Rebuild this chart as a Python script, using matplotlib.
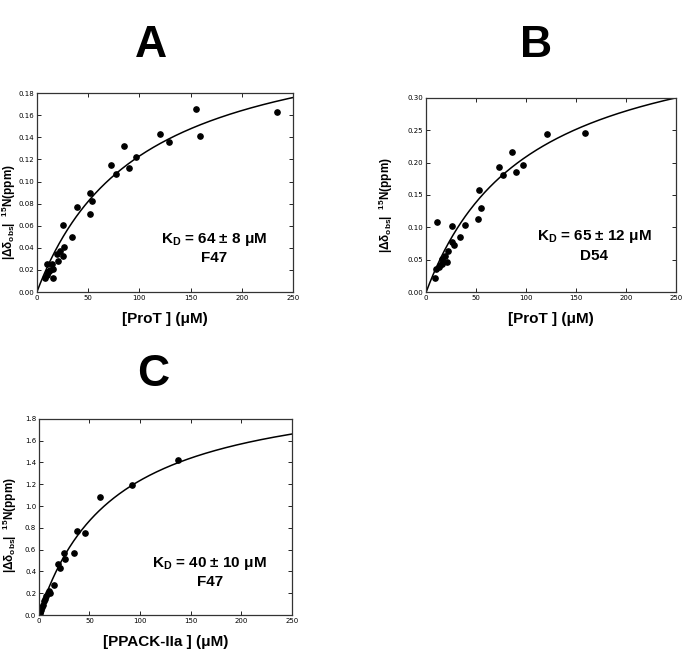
import numpy as np
import matplotlib
matplotlib.use("Agg")
import matplotlib.pyplot as plt

# panel A: ProT titration, F47
a_conc = [234.4, 155.3, 158.9, 120.1, 128.9, 84.6, 96.4, 89.8, 71.9, 77.5,
          51.4, 54.0, 51.4, 38.7, 25.4, 33.9, 26.7, 25.7, 22.1, 19.2,
          20.5, 10.1, 14.6, 15.6, 12.4, 10.7, 9.4, 7.8, 15.3, 12.0]
a_shift = [0.163, 0.166, 0.141, 0.143, 0.136, 0.132, 0.122, 0.112, 0.115, 0.107,
           0.090, 0.082, 0.071, 0.077, 0.061, 0.050, 0.041, 0.033, 0.037, 0.034,
           0.028, 0.025, 0.025, 0.021, 0.020, 0.018, 0.015, 0.013, 0.013, 0.019]

# panel B: ProT titration, D54
b_conc = [159.3, 120.7, 85.7, 72.7, 77.3, 90.3, 97.3, 53.0, 54.7, 52.3,
          11.3, 26.3, 39.3, 34.3, 26.3, 27.7, 22.3, 21.3, 19.0, 16.0,
          14.3, 12.7, 10.3, 9.3, 16.3]
b_shift = [0.245, 0.244, 0.216, 0.193, 0.181, 0.186, 0.196, 0.158, 0.129, 0.113,
           0.108, 0.102, 0.103, 0.085, 0.078, 0.072, 0.064, 0.046, 0.056, 0.051,
           0.041, 0.038, 0.036, 0.021, 0.043]

# panel C: PPACK-IIa titration, F47
c_conc = [137.9, 91.7, 60.7, 37.6, 45.8, 34.3, 24.7, 25.7, 19.1, 20.8,
          14.8, 10.9, 9.9, 8.6, 7.3, 6.3, 5.3, 4.3, 3.0, 2.3, 1.3, 0.7]
c_shift = [1.42, 1.193, 1.082, 0.770, 0.757, 0.573, 0.573, 0.515, 0.466, 0.432,
           0.276, 0.199, 0.218, 0.199, 0.175, 0.147, 0.126, 0.092, 0.071, 0.046,
           0.031, 0.015]

# fitted curve parameters (max shift, apparent K)
a_fit = (0.247, 100.7)
b_fit = (0.4226, 102.2)
c_fit = (2.156, 74.7)

a_ticks = [0.00, 0.02, 0.04, 0.06, 0.08, 0.10, 0.12, 0.14, 0.16, 0.18]
b_ticks = [0.00, 0.05, 0.10, 0.15, 0.20, 0.25, 0.30]
c_ticks = [0.0, 0.2, 0.4, 0.6, 0.8, 1.0, 1.2, 1.4, 1.6, 1.8]
x_ticks = [0, 50, 100, 150, 200, 250]

ylabel = "|Δδ$_{\\mathregular{obs}}$|  $^{\\mathregular{15}}$N(ppm)"
bold = dict(family="Liberation Sans", fontweight="bold")


def panel(ax, conc, shift, fit, yticks, fmt, xlabel, note, note_pos, ylab_pos):
    xs = np.linspace(0, 250, 300)
    bmax, k = fit
    ax.plot(xs, bmax * xs / (k + xs), color="black", lw=1.1)
    ax.plot(conc, shift, "o", color="black", ms=3.8)
    ax.set_xlim(0, 250)
    ax.set_ylim(yticks[0], yticks[-1])
    ax.set_xticks(x_ticks)
    ax.set_yticks(yticks)
    ax.set_yticklabels([fmt % t for t in yticks])
    ax.tick_params(direction="in", length=3, width=0.6, top=True, right=True,
                   labelsize=5, pad=2)
    for lab in ax.get_xticklabels() + ax.get_yticklabels():
        lab.set_family("DejaVu Sans")
    for s in ax.spines.values():
        s.set_color("#333333")
        s.set_linewidth(0.9)
    ax.set_xlabel(xlabel, fontsize=11, labelpad=8, **bold)
    ax.set_ylabel(ylabel, fontsize=8.5, **bold)
    ax.yaxis.set_label_coords(*ylab_pos)
    ax.text(note_pos[0], note_pos[1], note, transform=ax.transAxes,
            ha="center", va="center", multialignment="center",
            fontsize=11, linespacing=1.3, **bold)


fig = plt.figure(figsize=(6.83, 6.54), dpi=100)
axA = fig.add_axes([0.054, 0.5535, 0.375, 0.304])
axB = fig.add_axes([0.624, 0.5535, 0.366, 0.297])
axC = fig.add_axes([0.057, 0.0596, 0.370, 0.300])

panel(axA, a_conc, a_shift, a_fit, a_ticks, "%.2f", "[ProT ] (μM)",
      "K$_{\\mathregular{D}}$ = 64 ± 8 μM\nF47", (0.69, 0.22), (-0.073, 0.40))
panel(axB, b_conc, b_shift, b_fit, b_ticks, "%.2f", "[ProT ] (μM)",
      "K$_{\\mathregular{D}}$ = 65 ± 12 μM\nD54", (0.672, 0.24), (-0.125, 0.45))
panel(axC, c_conc, c_shift, c_fit, c_ticks, "%.1f", "[PPACK-IIa ] (μM)",
      "K$_{\\mathregular{D}}$ = 40 ± 10 μM\nF47", (0.676, 0.22), (-0.08, 0.46))

fig.text(0.221, 0.931, "A", fontsize=32, ha="center", va="center", **bold)
fig.text(0.785, 0.931, "B", fontsize=32, ha="center", va="center", **bold)
fig.text(0.224, 0.427, "C", fontsize=32, ha="center", va="center", **bold)

fig.savefig("out.png", dpi=100, facecolor="white")
